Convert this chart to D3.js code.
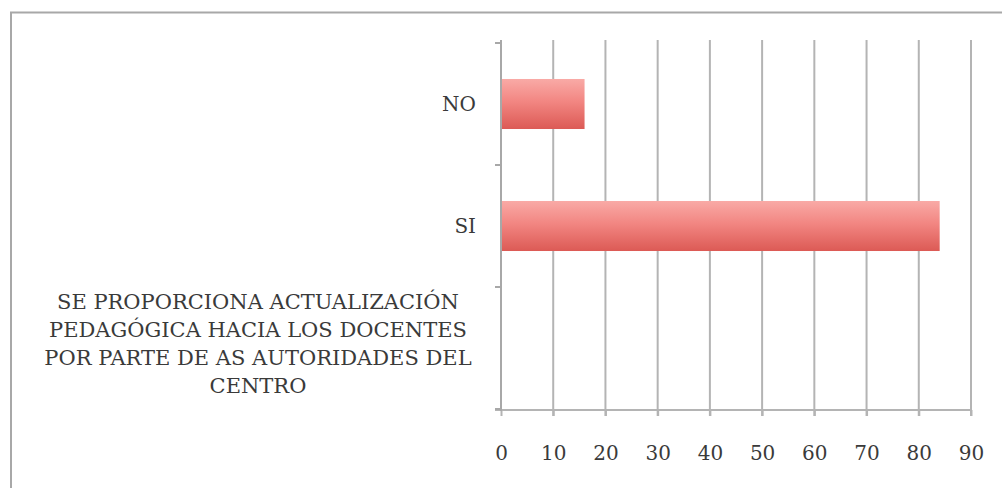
<!DOCTYPE html>
<html><head><meta charset="utf-8">
<script src="https://cdn.jsdelivr.net/npm/d3@7"></script>
<style>
html,body{margin:0;padding:0;background:#fff;}
svg{display:block;}
</style></head>
<body>
<svg id="chart" width="1002" height="488"></svg>
<script>
const categories = ["NO", "SI", "SE PROPORCIONA ACTUALIZACIÓN PEDAGÓGICA HACIA LOS DOCENTES POR PARTE DE AS AUTORIDADES DEL CENTRO"];
const values = [16, 84, null];
const xTicks = [0, 10, 20, 30, 40, 50, 60, 70, 80, 90];
const titleLines = ["SE PROPORCIONA ACTUALIZACIÓN", "PEDAGÓGICA HACIA LOS DOCENTES", "POR PARTE DE AS AUTORIDADES DEL", "CENTRO"];

const svg = d3.select("#chart");
const font = "'DejaVu Serif', serif";

// outer frame
svg.append("rect").attr("x", 11).attr("y", 12.5).attr("width", 1000).attr("height", 490)
  .attr("fill", "#fff").attr("stroke", "#a8a8a8").attr("stroke-width", 2);

const defs = svg.append("defs");
const grad = defs.append("linearGradient").attr("id", "barGrad").attr("x1", 0).attr("y1", 0).attr("x2", 0).attr("y2", 1);
grad.append("stop").attr("offset", "0%").attr("stop-color", "#f9aaa6");
grad.append("stop").attr("offset", "45%").attr("stop-color", "#f28682");
grad.append("stop").attr("offset", "100%").attr("stop-color", "#dc5a55");

const x = d3.scaleLinear().domain([0, 90]).range([501, 971]);
const y = d3.scaleBand().domain(categories).range([43, 409]).paddingInner(0.59).paddingOuter(0.295);
const yTicks = d3.scaleBand().domain(categories).range([43, 409]);

// gridlines
svg.append("g").selectAll("line").data(xTicks.slice(1)).join("line")
  .attr("x1", d => x(d)).attr("x2", d => x(d)).attr("y1", 40).attr("y2", 416)
  .attr("stroke", "#b4b4b4").attr("stroke-width", 2);

// bottom axis
const xAxis = svg.append("g").attr("transform", "translate(0,410)")
  .call(d3.axisBottom(x).tickValues(xTicks).tickSize(6).tickPadding(30));
xAxis.select(".domain").attr("stroke", "#b4b4b4").attr("stroke-width", 2).attr("d", "M495,0H971");
xAxis.selectAll(".tick line").attr("stroke", "#b4b4b4").attr("stroke-width", 2);
xAxis.selectAll(".tick text").attr("font-family", font).attr("font-size", 20).attr("fill", "#3a3a3a");

// left axis
svg.append("line").attr("x1", 501).attr("x2", 501).attr("y1", 40).attr("y2", 411)
  .attr("stroke", "#a8a8a8").attr("stroke-width", 2);
const tickYs = [yTicks.range()[0]].concat(categories.map(c => yTicks(c) + yTicks.bandwidth()));
svg.append("g").selectAll("line").data(tickYs).join("line")
  .attr("x1", 495).attr("x2", 501).attr("y1", d => d).attr("y2", d => d)
  .attr("stroke", "#a8a8a8").attr("stroke-width", 2);

// bars
const barData = categories.map((c, i) => ({c, v: values[i]})).filter(d => d.v != null);
svg.append("g").selectAll("rect").data(barData).join("rect")
  .attr("x", x(0) + 1).attr("y", d => y(d.c))
  .attr("width", d => x(d.v) - x(0) - 1).attr("height", y.bandwidth())
  .attr("fill", "url(#barGrad)");

// category labels
const labelG = svg.append("g").attr("font-family", font).attr("fill", "#3a3a3a");
categories.slice(0, 2).forEach(c => {
  labelG.append("text").attr("x", 476).attr("y", yTicks(c) + yTicks.bandwidth() / 2)
    .attr("font-size", 20)
    .attr("text-anchor", "end").attr("dominant-baseline", "central").text(c);
});
const lastC = categories[2];
const cy = yTicks(lastC) + yTicks.bandwidth() / 2 - 4;
titleLines.forEach((t, i) => {
  labelG.append("text").attr("x", 258).attr("y", cy + (i - 1.5) * 28)
    .attr("font-size", 21)
    .attr("text-anchor", "middle").attr("dominant-baseline", "central").text(t);
});
</script>
</body></html>
